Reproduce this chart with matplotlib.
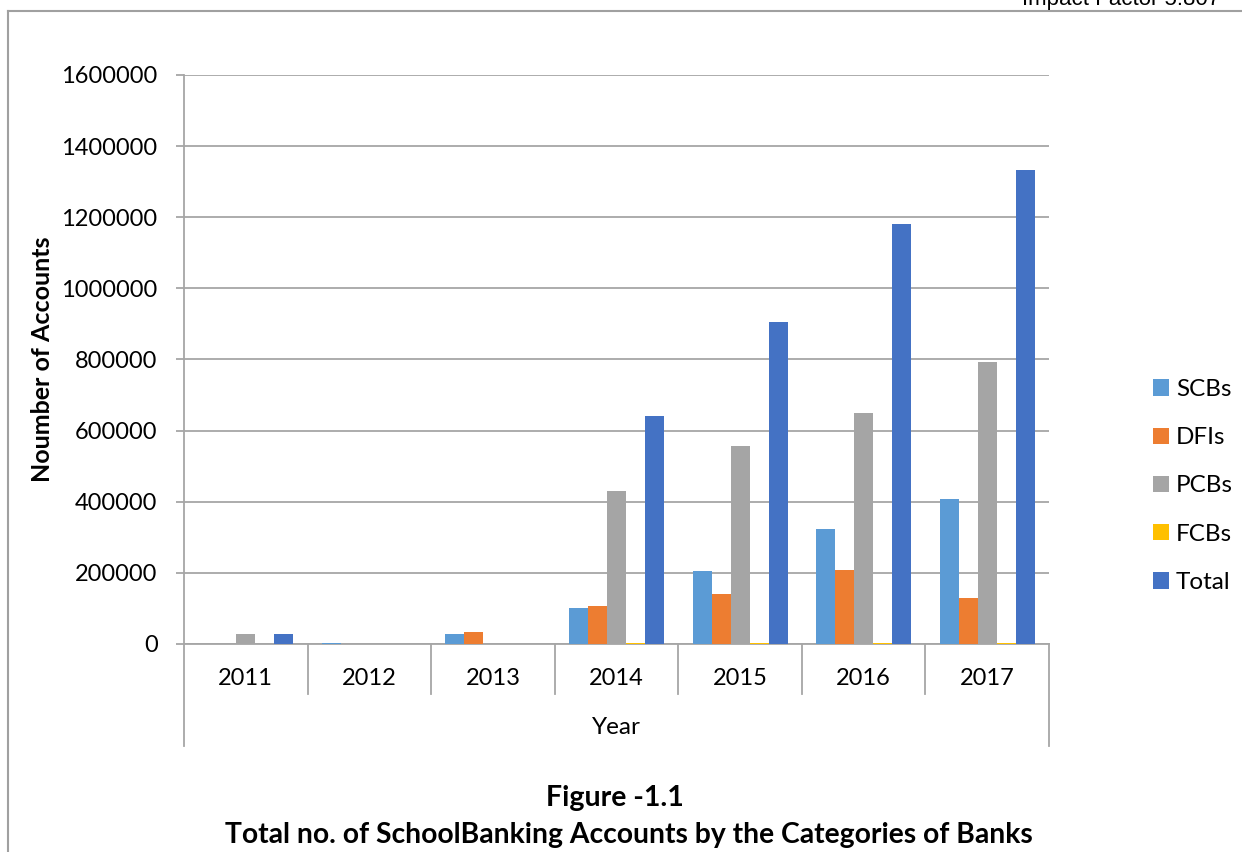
import numpy as np
import matplotlib
matplotlib.use("Agg")
import matplotlib.pyplot as plt
from matplotlib.lines import Line2D
import matplotlib.transforms as mtransforms

# School banking accounts per bank category
years = ["2011", "2012", "2013", "2014", "2015", "2016", "2017"]
scbs = [0, 2000, 27000, 100000, 205000, 322000, 407000]
dfis = [0, 1000, 33000, 106000, 140000, 207000, 130000]
pcbs = [27000, 0, 0, 430000, 556000, 650000, 792000]
fcbs = [0, 0, 0, 2000, 2000, 2000, 3000]
total = [29000, 0, 0, 640000, 906000, 1182000, 1334000]

series_names = ["SCBs", "DFIs", "PCBs", "FCBs", "Total"]
colors = ["#5B9BD5", "#ED7D31", "#A5A5A5", "#FFC000", "#4472C4"]

plt.rcParams["font.family"] = ["Lato", "DejaVu Sans"]

W, H = 1242, 852
fig = plt.figure(figsize=(W / 100, H / 100), dpi=100)
ax = fig.add_axes([184 / W, 1 - 644 / H, (1049 - 184) / W, (644 - 75) / H])

x = np.arange(len(years))
bw = 1 / 6.5
for i, (name, vals, c) in enumerate(zip(series_names, [scbs, dfis, pcbs, fcbs, total], colors)):
    ax.bar(x + (i - 2) * bw, vals, width=bw, color=c, label=name, zorder=3)

ax.set_xlim(-0.5, len(years) - 0.5)
ax.set_ylim(0, 1600000)
ax.set_yticks(np.arange(0, 1600001, 200000))
ax.yaxis.set_major_formatter(matplotlib.ticker.FuncFormatter(lambda v, p: f"{int(v)}"))
ax.grid(axis="y", color="#A6A6A6", linewidth=1.3, zorder=0)
ax.set_axisbelow(True)

for s in ["top", "right"]:
    ax.spines[s].set_visible(False)
ax.spines["left"].set_color("#A6A6A6")
ax.spines["left"].set_linewidth(1.3)
ax.spines["bottom"].set_color("#A6A6A6")
ax.spines["bottom"].set_linewidth(1.3)
ax.tick_params(axis="y", length=6, width=1.3, color="#A6A6A6", pad=13, labelsize=17)

ax.set_xticks(x)
ax.set_xticklabels(years)
ax.tick_params(axis="x", length=0, pad=17, labelsize=17)

# category dividers below the axis (multi-level category layout)
trans = mtransforms.blended_transform_factory(ax.transData, ax.transAxes)
h_ax = 644 - 75
for b in np.arange(-0.5, len(years), 1.0):
    depth = 102 if b in (-0.5, len(years) - 0.5) else 50
    ax.plot([b, b], [0, -depth / h_ax], transform=trans, color="#A6A6A6",
            linewidth=1.3, clip_on=False)

ax.text(0.5, -(728 - 644) / h_ax, "Year", transform=ax.transAxes,
        ha="center", va="center", fontsize=17.5)

ax.set_ylabel("Noumber of Accounts", fontsize=18, fontweight="bold")
ax.yaxis.set_label_coords((54 - 184) / (1049 - 184), 0.5)

ax.legend(loc="center left", bbox_to_anchor=(1153 / W, 1 - 486 / H),
          bbox_transform=fig.transFigure, frameon=False, fontsize=17.5,
          handlelength=0.65, handleheight=0.65, handletextpad=0.3,
          labelspacing=1.12, borderpad=0, borderaxespad=0)

# caption
fig.text(615 / W, 1 - 798 / H, "Figure -1.1", ha="center", va="center",
         fontsize=20.5, fontweight="bold")
fig.text(629 / W, 1 - 835 / H, "Total no. of SchoolBanking Accounts by the Categories of Banks",
         ha="center", va="center", fontsize=20.3, fontweight="bold")

# page frame and running header
frame_c = "#A0A0A0"
fig.add_artist(Line2D([8 / W, 8 / W], [0, 1 - 11 / H], transform=fig.transFigure,
                      color=frame_c, linewidth=1.5))
fig.add_artist(Line2D([8 / W, 1], [1 - 11 / H, 1 - 11 / H], transform=fig.transFigure,
                      color=frame_c, linewidth=1.5))
fig.text(1022 / W, 1 - 5 / H, "Impact Factor 5.807", ha="left", va="baseline",
         fontsize=16, family="Liberation Sans")

fig.savefig("out.png", dpi=100)
